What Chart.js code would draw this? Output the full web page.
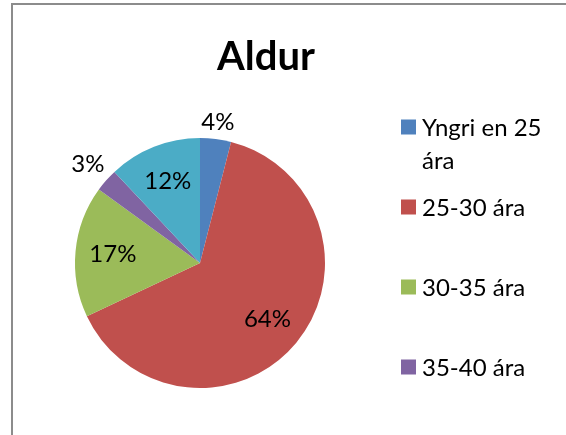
<!DOCTYPE html>
<html>
<head>
<meta charset="utf-8">
<script src="https://cdn.jsdelivr.net/npm/chart.js@4"></script>
<style>
  html, body { margin: 0; padding: 0; background: #fff; }
  #wrap { position: relative; width: 566px; height: 435px; overflow: hidden; }
  #frame { position: absolute; left: 11px; top: 3px; width: 600px; height: 500px;
           border-left: 2px solid #8c8c8c; border-top: 2px solid #8c8c8c; }
  #c { position: absolute; left: 0; top: 0; }
</style>
</head>
<body>
<div id="wrap">
  <div id="frame"></div>
  <canvas id="c" width="566" height="435"></canvas>
</div>
<script>
const titill = 'Aldur';
const flokkar = ['Yngri en 25 ára', '25-30 ára', '30-35 ára', '35-40 ára', 'Eldri en 40 ára'];
const gildi = [4, 64, 17, 3, 12];
const litir = ['#4f81bd', '#c0504d', '#9bbb59', '#8064a2', '#4bacc6'];
// only the first four legend entries fit in the box
const synilegir = 4;

const FONT = 'Lato, "Noto Sans", sans-serif';

// percentages on the slices, small ones go outside
const merkiPlugin = {
  id: 'merki',
  afterDatasetsDraw(chart) {
    const ctx = chart.ctx;
    const arcs = chart.getDatasetMeta(0).data;
    ctx.save();
    ctx.font = '24px ' + FONT;
    ctx.fillStyle = '#000';
    ctx.textAlign = 'center';
    ctx.textBaseline = 'middle';
    arcs.forEach((arc, i) => {
      const p = arc.getProps(['x', 'y', 'startAngle', 'endAngle', 'outerRadius'], true);
      const mid = (p.startAngle + p.endAngle) / 2;
      const txt = gildi[i] + '%';
      let r;
      if (gildi[i] < 5) {
        const w = ctx.measureText(txt).width / 2;
        r = p.outerRadius + 6 + Math.abs(Math.cos(mid)) * w + Math.abs(Math.sin(mid)) * 9;
      } else {
        r = p.outerRadius * 0.7;
      }
      ctx.fillText(txt, p.x + Math.cos(mid) * r, p.y + Math.sin(mid) * r);
    });
    ctx.restore();
  }
};

// title and the legend on the right
const skyringPlugin = {
  id: 'skyring',
  afterDraw(chart) {
    const ctx = chart.ctx;
    ctx.save();
    ctx.fillStyle = '#000';
    ctx.font = 'bold 40px ' + FONT;
    ctx.textAlign = 'center';
    ctx.textBaseline = 'middle';
    ctx.fillText(titill, 266, 57);

    ctx.font = '24px ' + FONT;
    ctx.textAlign = 'left';
    for (let i = 0; i < synilegir; i++) {
      const y = 127 + i * 80;
      ctx.fillStyle = litir[i];
      ctx.fillRect(401, y - 7.5, 15, 15);
      ctx.fillStyle = '#000';
      // wrap long text
      const ord = flokkar[i].split(' ');
      const linur = [];
      let lina = '';
      ord.forEach(o => {
        const t = lina ? lina + ' ' + o : o;
        if (ctx.measureText(t).width > 135 && lina) { linur.push(lina); lina = o; }
        else lina = t;
      });
      linur.push(lina);
      linur.forEach((l, j) => ctx.fillText(l, 422, y + 1 + j * 33));
    }
    ctx.restore();
  }
};

new Chart(document.getElementById('c'), {
  type: 'pie',
  data: {
    labels: flokkar,
    datasets: [{
      data: gildi,
      backgroundColor: litir,
      borderWidth: 0
    }]
  },
  options: {
    responsive: false,
    animation: false,
    layout: { padding: { left: 75, top: 138, right: 241, bottom: 47 } },
    plugins: {
      legend: { display: false },
      title: { display: false },
      tooltip: { enabled: false }
    }
  },
  plugins: [merkiPlugin, skyringPlugin]
});
</script>
</body>
</html>
